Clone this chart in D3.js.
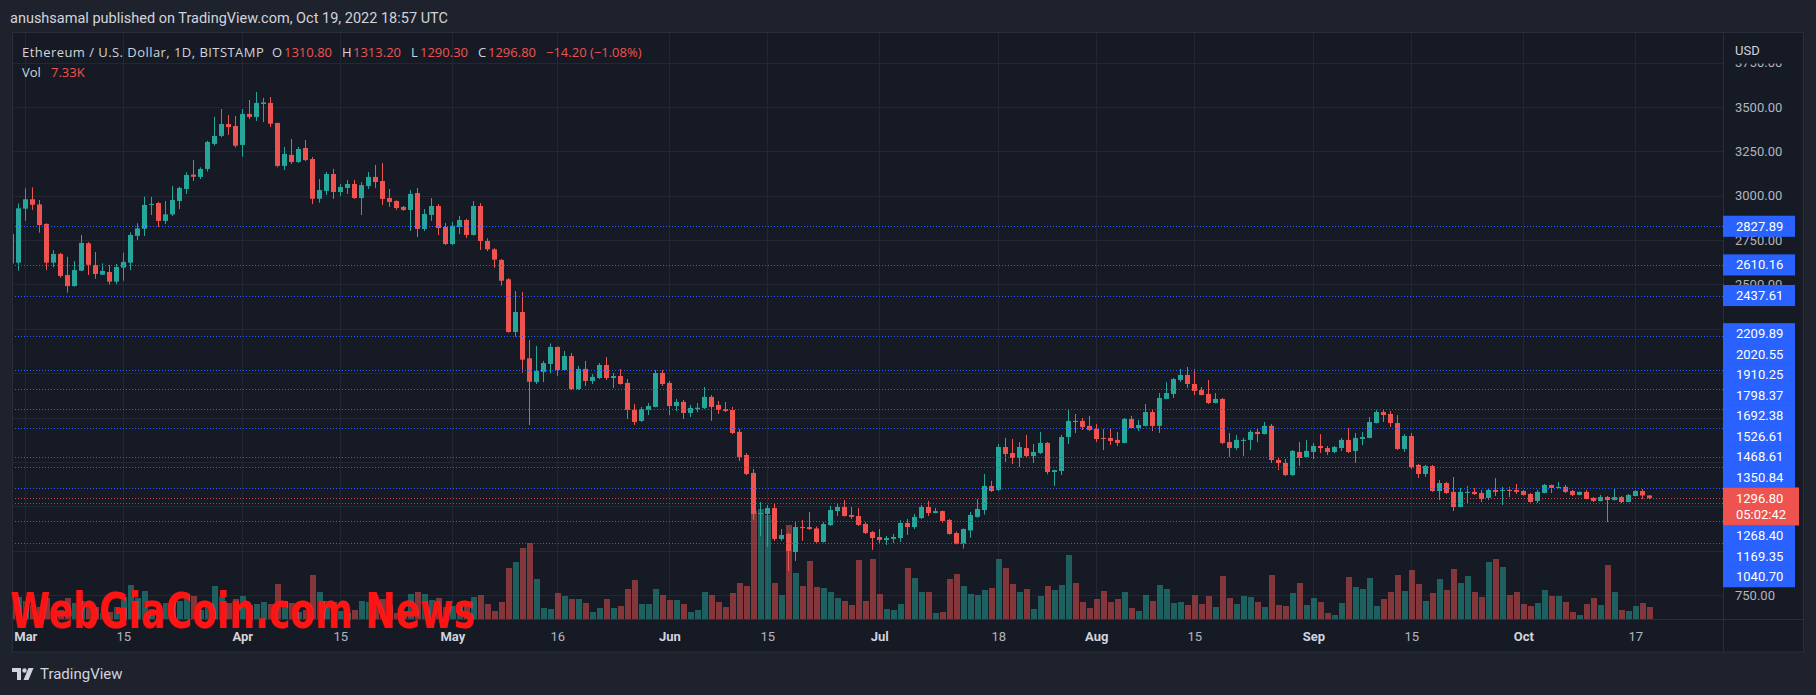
<!DOCTYPE html>
<html>
<head>
<meta charset="utf-8">
<title>ETHUSD 1D</title>
<script src="https://cdn.jsdelivr.net/npm/d3@7"></script>
<style>
  html, body { margin:0; padding:0; background:#1e222d; }
  svg { display:block; }
</style>
</head>
<body>
<div id="graphe"></div>
<script>
"use strict";

// ---- donnees ----
var premierJour = Date.UTC(2022, 1, 27); // 27 fev 2022
var dernierJour = Date.UTC(2022, 9, 19); // 19 oct 2022

var ouverture = [
  2784, 2623,
  2927, 2980, 2951, 2841, 2623, 2672, 2553, 2491, 2578, 2732, 2610, 2555, 2570, 2516, 2595, 2623, 2774, 2814, 2948, 2959, 2858, 2895, 2970, 3038, 3119, 3106, 3151, 3292, 3337, 3404, 3393,
  3286, 3461, 3444, 3517, 3523, 3410, 3168, 3230, 3190, 3269, 3207, 2983, 3027, 3122, 3021, 3044, 3066, 2987, 3055, 3106, 3083, 2987, 2970, 2937, 2920, 3015, 2813, 2892, 2942, 2824,
  2728, 2824, 2863, 2779, 2942, 2745, 2698, 2638, 2529, 2232, 2345, 2084, 1950, 2007, 2052, 2148, 2018, 2097, 1911, 2024, 1956, 1973, 2046, 1973, 1984, 1945, 1793, 1731, 1793, 1810, 2001,
  1945, 1815, 1838, 1776, 1798, 1804, 1866, 1821, 1798, 1793, 1669, 1539, 1438, 1207, 1207, 1240, 1066, 1094, 992, 1133, 1133, 1125, 1049, 1144, 1223, 1246, 1201, 1195, 1150, 1105,
  1077, 1060, 1066, 1071, 1156, 1133, 1184, 1246, 1212, 1223, 1173, 1099, 1039, 1114, 1190, 1229, 1364, 1342, 1584, 1550, 1522, 1578, 1533, 1550, 1607, 1443, 1449, 1640, 1731, 1731, 1703,
  1686, 1635, 1635, 1624, 1607, 1742, 1691, 1703, 1781, 1703, 1855, 1883, 1962, 1990, 1939, 1905, 1883, 1832, 1855, 1612, 1578, 1618, 1624, 1669, 1657, 1703, 1511, 1494, 1426, 1556, 1528,
  1556, 1590, 1578, 1556, 1578, 1624, 1561, 1629, 1635, 1719, 1781, 1770, 1719, 1573, 1646, 1483, 1432, 1477, 1336, 1381, 1331, 1246, 1325, 1331, 1325, 1297, 1342, 1336, 1342, 1342,
  1336, 1319, 1280, 1325, 1370, 1353, 1359, 1336, 1314, 1331, 1297, 1280, 1302, 1285, 1302, 1274, 1308, 1336, 1310.8
];
var plusHaut = [
  2830, 2957,
  3042, 3047, 2976, 2845, 2694, 2679, 2656, 2632, 2779, 2739, 2683, 2619, 2610, 2615, 2679, 2794, 2845, 2995, 2993, 2966, 2970, 3055, 3051, 3132, 3201, 3160, 3310, 3445, 3489, 3455, 3449,
  3489, 3539, 3585, 3551, 3556, 3412, 3275, 3320, 3275, 3314, 3218, 3094, 3134, 3151, 3066, 3089, 3089, 3077, 3134, 3173, 3184, 3038, 2975, 2942, 3032, 3044, 2925, 2987, 2953, 2846,
  2852, 2886, 2870, 2970, 2959, 2760, 2704, 2644, 2536, 2463, 2458, 2187, 2153, 2069, 2168, 2150, 2125, 2114, 2041, 2069, 1995, 2057, 2091, 2001, 2024, 1967, 1827, 1810, 1832, 2018, 2018,
  1956, 1855, 1849, 1821, 1832, 1922, 1877, 1843, 1838, 1810, 1686, 1550, 1460, 1274, 1257, 1263, 1122, 1100, 1161, 1173, 1218, 1136, 1161, 1252, 1263, 1285, 1246, 1240, 1161, 1111,
  1122, 1083, 1094, 1173, 1178, 1207, 1257, 1280, 1240, 1226, 1178, 1107, 1125, 1218, 1291, 1432, 1393, 1601, 1635, 1629, 1612, 1652, 1601, 1669, 1612, 1456, 1652, 1793, 1770, 1748, 1759,
  1714, 1686, 1691, 1669, 1748, 1759, 1736, 1826, 1798, 1888, 1950, 1973, 2024, 2035, 2024, 1922, 1962, 1888, 1860, 1663, 1652, 1635, 1680, 1691, 1725, 1714, 1522, 1516, 1567, 1612, 1624,
  1607, 1657, 1590, 1590, 1635, 1691, 1663, 1669, 1753, 1793, 1793, 1787, 1764, 1657, 1663, 1488, 1483, 1483, 1398, 1387, 1415, 1353, 1364, 1353, 1342, 1353, 1409, 1359, 1359, 1376,
  1342, 1325, 1342, 1376, 1372, 1387, 1370, 1342, 1333, 1342, 1302, 1314, 1308, 1347, 1308, 1319, 1342, 1347, 1313.2
];
var plusBas = [
  2580, 2578,
  2859, 2920, 2792, 2581, 2597, 2538, 2454, 2488, 2575, 2553, 2532, 2553, 2499, 2502, 2521, 2581, 2750, 2773, 2891, 2824, 2841, 2886, 2925, 3010, 3083, 3094, 3136, 3282, 3330, 3342, 3271,
  3220, 3432, 3421, 3415, 3387, 3160, 3145, 3179, 3185, 3195, 2953, 2961, 3004, 2982, 2998, 3010, 2982, 2891, 3038, 3044, 2948, 2937, 2920, 2915, 2801, 2767, 2801, 2858, 2779, 2722,
  2722, 2784, 2762, 2775, 2694, 2688, 2594, 2493, 2228, 2206, 2003, 1708, 1939, 1950, 1999, 1984, 2012, 1905, 1905, 1928, 1939, 1967, 1962, 1917, 1935, 1742, 1708, 1725, 1764, 1807, 1928,
  1764, 1787, 1742, 1753, 1781, 1798, 1731, 1770, 1781, 1657, 1505, 1426, 1173, 1083, 1021, 1055, 1055, 885, 942, 1055, 1116, 1044, 1045, 1139, 1195, 1192, 1178, 1139, 1094, 1004,
  1038, 1032, 1043, 1049, 1088, 1122, 1178, 1195, 1210, 1156, 1090, 1035, 1011, 1073, 1185, 1203, 1331, 1336, 1500, 1488, 1471, 1522, 1494, 1545, 1430, 1364, 1426, 1601, 1663, 1680, 1674,
  1612, 1567, 1595, 1590, 1605, 1689, 1674, 1700, 1674, 1663, 1853, 1860, 1950, 1917, 1877, 1875, 1826, 1830, 1600, 1528, 1567, 1533, 1567, 1612, 1655, 1494, 1454, 1420, 1420, 1477, 1526,
  1516, 1550, 1539, 1550, 1561, 1550, 1494, 1595, 1633, 1717, 1725, 1697, 1567, 1556, 1460, 1409, 1415, 1331, 1285, 1319, 1223, 1244, 1268, 1314, 1274, 1285, 1308, 1257, 1302, 1319,
  1310, 1270, 1268, 1323, 1325, 1351, 1325, 1308, 1312, 1289, 1274, 1278, 1161, 1283, 1268, 1272, 1306, 1291, 1290.3
];
var cloture = [
  2619, 2929,
  2980, 2949, 2835, 2623, 2672, 2548, 2491, 2581, 2734, 2611, 2559, 2576, 2516, 2598, 2627, 2779, 2816, 2948, 2954, 2858, 2895, 2976, 3044, 3117, 3107, 3151, 3303, 3337, 3404, 3387, 3282,
  3461, 3444, 3523, 3526, 3406, 3168, 3235, 3190, 3263, 3201, 2983, 3032, 3122, 3021, 3049, 3066, 2987, 3060, 3106, 3077, 2982, 2965, 2931, 2920, 3010, 2813, 2897, 2942, 2818, 2728,
  2831, 2863, 2779, 2942, 2745, 2698, 2640, 2521, 2232, 2345, 2076, 1952, 2012, 2057, 2148, 2018, 2097, 1911, 2024, 1956, 1979, 2046, 1973, 1984, 1939, 1793, 1725, 1798, 1815, 2001, 1939,
  1815, 1838, 1776, 1804, 1805, 1866, 1810, 1793, 1787, 1663, 1528, 1432, 1207, 1212, 1240, 1066, 1088, 998, 1133, 1127, 1122, 1049, 1150, 1229, 1246, 1195, 1190, 1145, 1099, 1071,
  1060, 1071, 1077, 1156, 1133, 1190, 1246, 1212, 1223, 1167, 1094, 1039, 1122, 1201, 1235, 1364, 1336, 1584, 1545, 1522, 1584, 1533, 1556, 1607, 1443, 1454, 1640, 1731, 1725, 1697, 1680,
  1629, 1629, 1618, 1607, 1742, 1691, 1708, 1781, 1703, 1860, 1888, 1967, 1990, 1939, 1900, 1877, 1832, 1855, 1607, 1578, 1624, 1624, 1669, 1657, 1703, 1511, 1494, 1426, 1562, 1522, 1562,
  1590, 1578, 1556, 1584, 1624, 1556, 1635, 1640, 1725, 1781, 1764, 1719, 1573, 1646, 1471, 1432, 1477, 1336, 1381, 1325, 1246, 1331, 1331, 1319, 1291, 1342, 1331, 1342, 1336, 1331,
  1314, 1274, 1331, 1370, 1353, 1359, 1331, 1314, 1331, 1291, 1280, 1302, 1285, 1302, 1274, 1314, 1336, 1311, 1296.8
];
// volume en milliers d'ETH
var volume = [
  9.2, 13.4,
  11.0, 8.6, 7.3, 12.8, 4.9, 5.5, 12.8, 9.8, 11.0, 8.6, 7.3, 3.7, 4.3, 7.3, 13.4, 20.8, 12.8, 17.1, 6.1, 7.3, 9.8, 12.2, 11.0, 14.7, 14.1, 5.5, 8.6, 20.2, 13.4, 9.8, 12.2,
  14.1, 8.6, 9.2, 10.4, 9.2, 21.4, 11.0, 9.8, 4.3, 5.5, 26.9, 16.5, 11.0, 10.4, 4.9, 3.7, 5.5, 11.0, 10.4, 9.2, 12.2, 8.6, 3.7, 4.3, 15.3, 16.5, 15.3, 11.6, 12.8, 7.3,
  7.9, 10.4, 7.9, 13.4, 14.7, 9.2, 4.9, 10.4, 31.2, 34.8, 43.4, 46.4, 24.4, 6.7, 6.1, 15.9, 14.1, 12.2, 12.2, 9.8, 4.3, 6.7, 12.2, 6.7, 7.9, 18.3, 23.8, 9.2, 9.2, 18.3, 14.7,
  11.6, 11.6, 9.2, 4.3, 5.5, 16.5, 14.7, 10.4, 7.3, 15.9, 22.0, 20.2, 66.0, 67.2, 63.5, 22.0, 14.7, 57.4, 28.1, 20.2, 35.4, 19.6, 18.9, 16.5, 12.8, 11.0, 8.6, 36.0, 11.0, 36.7,
  15.3, 6.1, 5.5, 9.2, 31.2, 25.1, 16.5, 16.5, 3.7, 4.3, 24.4, 27.5, 20.2, 15.3, 14.7, 17.7, 18.9, 36.7, 31.2, 21.4, 16.5, 18.3, 6.1, 14.1, 20.2, 17.7, 20.8, 39.1, 22.0, 10.4, 6.7,
  12.2, 17.1, 10.4, 12.2, 16.5, 6.7, 4.9, 14.7, 11.0, 20.8, 18.3, 9.8, 10.4, 8.6, 14.7, 9.2, 14.1, 7.3, 26.3, 12.8, 9.2, 14.1, 13.4, 10.4, 7.3, 26.9, 8.6, 7.9, 15.9, 22.0, 8.6,
  12.8, 10.4, 3.7, 2.4, 9.8, 25.7, 19.6, 18.3, 25.1, 7.9, 12.2, 16.5, 26.9, 17.1, 29.9, 21.4, 11.0, 15.9, 24.4, 17.7, 30.6, 22.0, 26.3, 16.5, 13.4, 34.8, 36.7, 31.8, 14.7, 16.5,
  9.2, 7.9, 9.8, 17.7, 14.1, 14.1, 10.4, 4.3, 2.4, 9.2, 12.8, 8.6, 33.0, 16.5, 5.5, 4.9, 7.9, 9.8, 7.33
];

// niveaux traces (lignes pointillees bleues)
var niveaux = [2827.89, 2610.16, 2437.61, 2209.89, 2020.55, 1910.25, 1798.37, 1692.38, 1526.61, 1468.61, 1350.84, 1268.40, 1169.35, 1040.70];
var compteRebours = "05:02:42";

// graduations
var graduationsPrix = [750, 1000, 1250, 1500, 1750, 2000, 2250, 2500, 2750, 3000, 3250, 3500, 3750];
var datesRepere = ["2022-03-01", "2022-03-15", "2022-04-01", "2022-04-15", "2022-05-01", "2022-05-16", "2022-06-01", "2022-06-15",
                   "2022-07-01", "2022-07-18", "2022-08-01", "2022-08-15", "2022-09-01", "2022-09-15", "2022-10-01", "2022-10-17"];
var etiquettesRepere = ["Mar", "15", "Apr", "15", "May", "16", "Jun", "15", "Jul", "18", "Aug", "15", "Sep", "15", "Oct", "17"];

// ---- mise en page ----
var larg = 1816, haut = 695;
var gauche = 12, hautPane = 33, axeX = 1723, droite = 1804, basVol = 619, bas = 652;
var vert = "#26a69a", rouge = "#ef5350", bleu = "#2962ff";
var texteClair = "#d1d4dc", texteGris = "#b2b5be";
var policeTV = "'Open Sans', Roboto, sans-serif";

var jours = d3.utcDay.range(new Date(premierJour), new Date(dernierJour + 864e5)).map(function(date, i){
  return { date: date, o: ouverture[i], h: plusHaut[i], l: plusBas[i], c: cloture[i], v: volume[i] };
});
if (jours.length !== ouverture.length || plusHaut.length !== jours.length || plusBas.length !== jours.length ||
    cloture.length !== jours.length || volume.length !== jours.length) {
  throw new Error("longueurs: " + [jours.length, ouverture.length, plusHaut.length, plusBas.length, cloture.length, volume.length]);
}

var x = d3.scaleUtc()
  .domain([new Date(Date.UTC(2022, 2, 1)), new Date(dernierJour)])
  .range([25.3, 1649.3]);
var y = d3.scaleLinear().domain([750, 3500]).range([595, 107]);
var yVol = d3.scaleLinear().domain([0, d3.max(volume)]).range([basVol, basVol - 110]);

function couleur(d){ return d.c >= d.o ? vert : rouge; }
function cx(d){ return Math.round(x(d.date)); }

var svg = d3.select("#graphe").append("svg")
  .attr("width", larg)
  .attr("height", haut)
  .attr("font-family", "Roboto, sans-serif");

// fond + cadre
svg.append("rect").attr("width", larg).attr("height", haut).attr("fill", "#1e222d");
svg.append("rect")
  .attr("x", gauche + 0.5).attr("y", hautPane - 0.5)
  .attr("width", droite - gauche - 1).attr("height", bas - hautPane + 0.5)
  .attr("fill", "#161a25").attr("stroke", "#2a2e39");

var defs = svg.append("defs");
defs.append("clipPath").attr("id", "clipPane").append("rect")
  .attr("x", gauche + 1).attr("y", hautPane).attr("width", axeX - gauche - 1).attr("height", basVol - hautPane);
defs.append("clipPath").attr("id", "clipAxe").append("rect")
  .attr("x", axeX).attr("y", 63.5).attr("width", droite - axeX).attr("height", basVol - 63.5);

// grille horizontale
var grilleY = svg.append("g")
  .attr("clip-path", "url(#clipPane)")
  .append("g")
  .attr("transform", "translate(" + gauche + ",0)")
  .call(d3.axisRight(y).tickValues(graduationsPrix).tickSize(axeX - gauche).tickFormat(""));
grilleY.select(".domain").remove();
grilleY.selectAll("line").attr("stroke", "#232733").attr("shape-rendering", "crispEdges");

// grille verticale
var datesRep = datesRepere.map(function(s){ return new Date(s + "T00:00:00Z"); });
var grilleX = svg.append("g")
  .attr("transform", "translate(0," + basVol + ")")
  .call(d3.axisBottom(x).tickValues(datesRep).tickSize(-(basVol - hautPane)).tickFormat(""));
grilleX.select(".domain").remove();
grilleX.selectAll("line").attr("stroke", "#232733").attr("shape-rendering", "crispEdges");

var pane = svg.append("g").attr("clip-path", "url(#clipPane)");

// barres de volume (derriere les bougies)
pane.selectAll("rect.vol")
  .data(jours)
  .enter()
  .append("rect")
    .attr("class", "vol")
    .attr("x", function(d){ return cx(d) - 2; })
    .attr("width", 6)
    .attr("y", function(d){ return yVol(d.v); })
    .attr("height", function(d){ return basVol - yVol(d.v); })
    .attr("fill", couleur)
    .attr("fill-opacity", 0.5)
    .attr("shape-rendering", "crispEdges");

// bougies
var bougies = pane.selectAll("g.bougie")
  .data(jours)
  .enter()
  .append("g")
    .attr("class", "bougie");

bougies.append("line")
  .attr("x1", function(d){ return cx(d) + 0.5; })
  .attr("x2", function(d){ return cx(d) + 0.5; })
  .attr("y1", function(d){ return y(d.h); })
  .attr("y2", function(d){ return y(d.l); })
  .attr("stroke", couleur)
  .attr("stroke-width", 1);

bougies.append("rect")
  .attr("x", function(d){ return cx(d) - 2; })
  .attr("width", 5)
  .attr("y", function(d){ return y(Math.max(d.o, d.c)); })
  .attr("height", function(d){ return Math.max(1, Math.abs(y(d.o) - y(d.c))); })
  .attr("fill", couleur);

// lignes pointillees
var dernier = jours[jours.length - 1];
var precedent = jours[jours.length - 2];

pane.selectAll("line.niveau")
  .data(niveaux)
  .enter()
  .append("line")
    .attr("class", "niveau")
    .attr("x1", gauche).attr("x2", axeX)
    .attr("y1", function(p){ return Math.round(y(p)) + 0.5; })
    .attr("y2", function(p){ return Math.round(y(p)) + 0.5; })
    .attr("stroke", bleu)
    .attr("stroke-dasharray", "1,2");

pane.append("line")
  .attr("x1", gauche).attr("x2", axeX)
  .attr("y1", Math.round(y(dernier.c)) + 0.5)
  .attr("y2", Math.round(y(dernier.c)) + 0.5)
  .attr("stroke", rouge)
  .attr("stroke-opacity", 0.8)
  .attr("stroke-dasharray", "1,2");

// separateurs des axes
svg.append("line").attr("x1", axeX + 0.5).attr("x2", axeX + 0.5).attr("y1", hautPane).attr("y2", bas)
  .attr("stroke", "#2a2e39");
svg.append("line").attr("x1", gauche).attr("x2", droite).attr("y1", basVol + 0.5).attr("y2", basVol + 0.5)
  .attr("stroke", "#2a2e39");

// axe des prix (le clip est pose sur un groupe sans translation)
var fmt = d3.format(".2f");
var axePrix = svg.append("g")
  .attr("clip-path", "url(#clipAxe)")
  .append("g")
  .attr("transform", "translate(" + axeX + ",0)")
  .call(d3.axisRight(y).tickValues(graduationsPrix).tickSize(0).tickPadding(12).tickFormat(fmt));
axePrix.select(".domain").remove();
axePrix.attr("font-family", null).attr("font-size", null);
axePrix.selectAll("text")
  .attr("fill", texteGris)
  .attr("font-size", "13px");

svg.append("text")
  .attr("x", axeX + 12).attr("y", 54.5)
  .attr("fill", texteClair)
  .attr("font-size", "13px")
  .text("USD");

// etiquettes des niveaux, empilees autour du prix courant
var hEt = 20.5;
var yCour = y(dernier.c);
var hautCour = yCour - 10.5, basCour = hautCour + 38;
var etiquettes = [];
var limite = hautCour;
niveaux.filter(function(p){ return p > dernier.c; })
  .sort(function(a, b){ return a - b; })
  .forEach(function(p){
    var c = Math.min(y(p), limite - hEt / 2);
    etiquettes.push({ p: p, c: c });
    limite = c - hEt / 2;
  });
limite = basCour;
niveaux.filter(function(p){ return p < dernier.c; })
  .sort(function(a, b){ return b - a; })
  .forEach(function(p){
    var c = Math.max(y(p), limite + hEt / 2);
    etiquettes.push({ p: p, c: c });
    limite = c + hEt / 2;
  });

var gEt = svg.append("g");
gEt.selectAll("rect.et")
  .data(etiquettes)
  .enter()
  .append("rect")
    .attr("class", "et")
    .attr("x", axeX)
    .attr("y", function(d){ return d.c - hEt / 2 - 0.3; })
    .attr("width", 72)
    .attr("height", hEt + 0.6)
    .attr("fill", bleu);
gEt.selectAll("text.et")
  .data(etiquettes)
  .enter()
  .append("text")
    .attr("class", "et")
    .attr("x", axeX + 13)
    .attr("y", function(d){ return d.c; })
    .attr("dy", "0.35em")
    .attr("fill", "#ffffff")
    .attr("font-size", "13px")
    .text(function(d){ return fmt(d.p); });

gEt.append("rect")
  .attr("x", axeX).attr("y", hautCour)
  .attr("width", 76).attr("height", 38)
  .attr("fill", rouge);
gEt.append("text")
  .attr("x", axeX + 13).attr("y", yCour).attr("dy", "0.35em")
  .attr("fill", "#ffffff").attr("font-size", "13px")
  .text(fmt(dernier.c));
gEt.append("text")
  .attr("x", axeX + 13).attr("y", yCour + 16.5).attr("dy", "0.35em")
  .attr("fill", "#ffffff").attr("font-size", "13px")
  .text(compteRebours);

// axe du temps
var axeTemps = svg.append("g")
  .attr("transform", "translate(0," + basVol + ")")
  .call(d3.axisBottom(x).tickValues(datesRep).tickSize(0)
    .tickFormat(function(d, i){ return etiquettesRepere[i]; }));
axeTemps.select(".domain").remove();
axeTemps.attr("font-family", null).attr("font-size", null);
axeTemps.selectAll("text")
  .attr("y", 21.5)
  .attr("dy", null)
  .attr("font-size", "13px")
  .attr("font-weight", function(d, i){ return isNaN(+etiquettesRepere[i]) ? 700 : 400; })
  .attr("fill", function(d, i){ return isNaN(+etiquettesRepere[i]) ? texteClair : texteGris; });

// legende
var variation = dernier.c - precedent.c;
var fmtSigne = d3.format("+.2f");
var gLeg = svg.append("g").attr("font-size", "13px").attr("font-family", policeTV);
var ligne = gLeg.append("text").attr("y", 56.5).attr("fill", texteClair);
ligne.append("tspan").attr("x", 22).attr("letter-spacing", "0.45px").text("Ethereum / U.S. Dollar, 1D, BITSTAMP");
[["O", dernier.o, 272, 284], ["H", dernier.h, 342, 353], ["L", dernier.l, 411, 420], ["C", dernier.c, 478, 488]].forEach(function(e){
  ligne.append("tspan").attr("x", e[2]).text(e[0]);
  ligne.append("tspan").attr("x", e[3]).attr("fill", rouge).text(fmt(e[1]));
});
ligne.append("tspan").attr("x", 546).attr("fill", rouge)
  .text(fmtSigne(variation).replace("-", "\u2212") + " (" + fmtSigne(variation / precedent.c * 100).replace("-", "\u2212") + "%)");

var ligneVol = gLeg.append("text").attr("y", 77).attr("fill", texteClair);
ligneVol.append("tspan").attr("x", 22).text("Vol");
ligneVol.append("tspan").attr("x", 51).attr("fill", rouge).text(fmt(dernier.v) + "K");

// en-tete
svg.append("text")
  .attr("x", 10).attr("y", 23)
  .attr("fill", texteClair)
  .attr("font-size", "14.5px")
  .text("anushsamal published on TradingView.com, Oct 19, 2022 18:57 UTC");

// filigrane
svg.append("text")
  .attr("x", 10).attr("y", 628)
  .attr("fill", "#ff1414")
  .attr("font-family", "'Liberation Sans Narrow', 'DejaVu Sans Condensed', 'Liberation Sans', sans-serif")
  .attr("font-weight", 700)
  .attr("font-size", "50px")
  .attr("textLength", 465)
  .attr("lengthAdjust", "spacingAndGlyphs")
  .text("WebGiaCoin.com News");

// logo TradingView
var logo = svg.append("g").attr("fill", texteClair);
logo.append("path").attr("d", "M12,668 h9 v12 h-4 v-8 h-5 z");
logo.append("circle").attr("cx", 24.5).attr("cy", 670.5).attr("r", 2.2);
logo.append("path").attr("d", "M28.5,668 h5 l-5,12 h-5 z");
svg.append("text")
  .attr("x", 40).attr("y", 679)
  .attr("fill", texteClair)
  .attr("font-size", "15px")
  .text("TradingView");
</script>
</body>
</html>
